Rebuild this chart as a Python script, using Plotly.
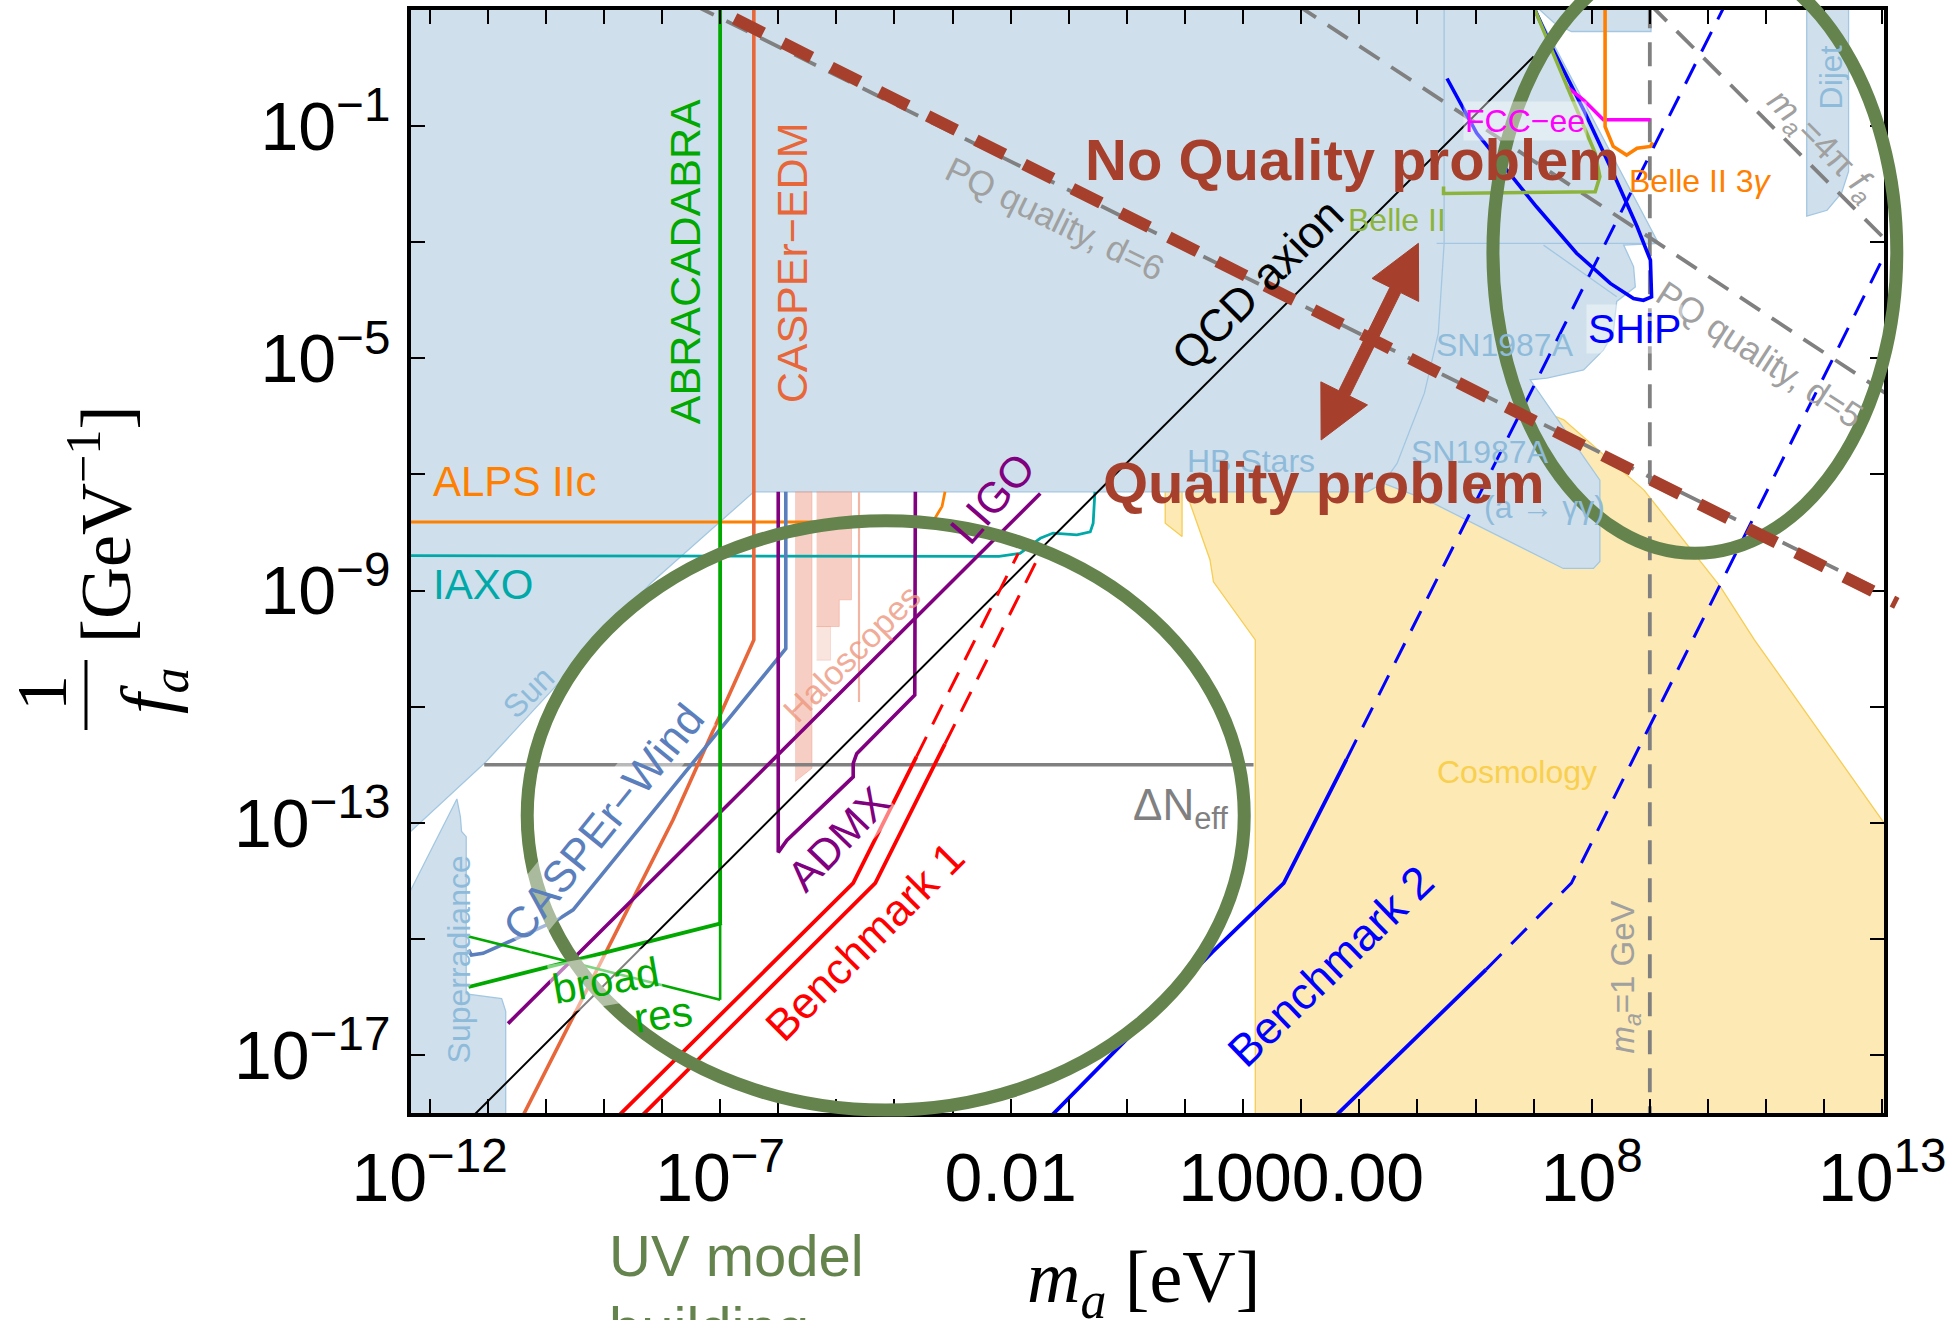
import numpy as np
import plotly.graph_objects as go

# ---------------- axes (log10 units) ----------------
X_RANGE = [-12.32, 13.03]
Y_RANGE = [-18.0, 1.0]
X_MINOR_EXP = list(range(-12, 14))
X_TICK_EXP = [-12, -7, -2, 3, 8, 13]
X_TICK_TEXT = ["10<sup>−12</sup>", "10<sup>−7</sup>", "0.01", "1000.00", "10<sup>8</sup>", "10<sup>13</sup>"]
Y_MINOR_EXP = list(range(-17, 2, 2))
Y_TICK_EXP = [-17, -13, -9, -5, -1]
Y_TICK_TEXT = ["10<sup>−17</sup>", "10<sup>−13</sup>", "10<sup>−9</sup>", "10<sup>−5</sup>", "10<sup>−1</sup>"]

# ---------------- regions (log10 m_a [eV], log10 1/f_a [GeV^-1]) ----------------
BLUE_MAIN_X = [-12.4, 7.05, 7.05, 9.15, 8.55, 8.72, 8.75, 8.43, 8.37, 8.20, 7.86, 7.23, 6.94,
               8.14, 8.14, 8.03, 7.51, 5.16, 4.41, 4.14, -6.42, -8.19, -11.03, -12.4, -12.4]
BLUE_MAIN_Y = [1.1, 1.1, 0.97, -3.02, -3.05, -3.42, -3.77, -4.02, -4.57, -4.86, -5.20, -5.34, -5.37,
               -7.10, -8.50, -8.62, -8.62, -7.44, -7.15, -7.30, -7.30, -8.87, -11.95, -13.22, 1.1]
BLUE_STRIP_X = [7.0, 9.02, 9.02, 7.65, 7.35, 7.0]
BLUE_STRIP_Y = [1.1, 1.1, 0.63, 0.63, 0.78, 1.1]
DIJET_X = [11.70, 12.42, 12.42, 12.30, 12.05, 11.70, 11.70]
DIJET_Y = [1.1, 1.1, -1.78, -2.15, -2.45, -2.55, 1.1]
SUPERRAD_X = [-12.4, -12.4, -11.53, -11.47, -11.45, -11.37, -11.37, -10.76, -10.69, -10.69, -12.4]
SUPERRAD_Y = [-18.1, -14.31, -12.59, -12.90, -13.15, -13.24, -15.95, -16.03, -16.25, -18.1, -18.1]
OUTLINE1_X = [5.46, 5.46, 5.36, 5.12, 4.87, 4.65, 4.41]
OUTLINE1_Y = [1.1, -3.02, -4.57, -5.6, -6.24, -6.81, -7.15]
OUTLINE2_X = [5.33, 9.15]
OUTLINE2_Y = [-3.02, -3.02]
OUTLINE3_X = [7.17, 7.86, 8.43]
OUTLINE3_Y = [-3.05, -3.54, -3.94]

COSMO_X = [1.0, 1.43, 1.49, 2.21, 2.21, 13.1, 13.1, 10.8, 10.21, 8.9, 7.52, 7.0, 4.0, 1.0]
COSMO_Y = [-7.25, -8.47, -8.85, -9.85, -18.1, -18.1, -13.1, -9.85, -8.93, -7.27, -6.06, -5.85, -7.0, -7.25]
COSMO_FLAG_X = [0.66, 0.66, 0.95, 0.95, 0.66]
COSMO_FLAG_Y = [-7.28, -7.84, -8.07, -7.28, -7.28]

HALO1_X = [-5.71, -5.42, -5.42, -5.71]
HALO1_Y = [-7.3, -7.3, -12.06, -12.29]
HALO2_X = [-5.34, -4.74, -4.74, -4.95, -4.95, -5.34]
HALO2_Y = [-7.3, -7.3, -9.16, -9.16, -9.62, -9.62]
HALO3_X = [-5.34, -5.10, -5.10, -5.34]
HALO3_Y = [-9.62, -9.62, -10.2, -10.2]
HALO_LINE_X = [-4.61, -4.61]
HALO_LINE_Y = [-7.3, -10.92]

# ---------------- curves ----------------
ALPS_X = [-12.4, -3.45, -3.30, -3.18, -3.13]
ALPS_Y = [-7.82, -7.82, -7.75, -7.55, -7.30]
IAXO_X = [-12.4, -2.2, -1.84, -1.49, -1.27, -0.86, -0.63, -0.58, -0.55]
IAXO_Y = [-8.40, -8.41, -8.36, -8.10, -8.01, -8.04, -7.99, -7.84, -7.30]
ABRA_X = [-7.0, -7.0]
ABRA_Y = [1.1, -14.73]
ABRA_RES_X = [-7.0, -7.0]
ABRA_RES_Y = [-14.73, -16.05]
BROAD_X = [-11.33, -6.97]
BROAD_Y = [-15.83, -14.73]
RES_X = [-11.33, -7.0]
RES_Y = [-14.96, -16.05]
EDM_X = [-6.42, -6.42, -7.81, -10.42]
EDM_Y = [1.1, -9.85, -12.95, -18.1]
WIND_X = [-5.87, -5.87, -9.53, -9.81, -11.08, -11.28, -11.33]
WIND_Y = [-7.3, -10.0, -14.50, -14.68, -15.25, -15.28, -15.19]
ADMX_X = [-6.0, -6.0, -5.85, -4.71, -4.71, -4.65, -3.65, -3.64]
ADMX_Y = [-7.3, -13.51, -13.30, -12.21, -11.98, -11.81, -10.80, -7.3]
LIGO_X = [-10.65, -1.49]
LIGO_Y = [-16.46, -7.33]
QCD_X = [-11.3, 7.0]
QCD_Y = [-18.1, 0.2]
DNEFF_X = [-11.06, 2.18]
DNEFF_Y = [-12.0, -12.0]

BM1A_X = [-8.80, -4.71, -3.62]
BM1A_Y = [-18.1, -14.04, -11.86]
BM1A_DASH_X = [-3.62, -1.87]
BM1A_DASH_Y = [-11.86, -8.36]
BM1B_X = [-8.40, -4.33, -3.13]
BM1B_Y = [-18.1, -14.04, -11.64]
BM1B_DASH_X = [-3.13, -1.50]
BM1B_DASH_Y = [-11.64, -8.38]
BM2C_X = [-1.35, 1.47, 2.70, 3.78]
BM2C_Y = [-18.1, -15.23, -14.04, -11.91]
BM2C_DASH_X = [3.78, 10.3]
BM2C_DASH_Y = [-11.91, 1.1]
BM2D_X = [3.54, 6.18]
BM2D_Y = [-18.1, -15.53]
BM2D_DASH_X = [6.18, 7.65, 13.1]
BM2D_DASH_Y = [-15.53, -14.04, -3.1]

PQ6_X = [-7.48, 13.1]
PQ6_Y = [1.1, -9.07]
PQ5_X = [2.91, 13.1]
PQ5_Y = [1.1, -5.63]
MA4PI_X = [9.0, 13.1]
MA4PI_Y = [1.1, -3.0]
GEV_X = [9.0, 9.0]
GEV_Y = [1.1, -18.1]

SHIP_X = [6.98, 7.28, 7.86, 8.37, 8.78, 9.01, 9.03, 8.89, 8.72, 8.32, 7.74, 7.05, 6.54, 6.02, 5.51]
SHIP_Y = [1.1, 0.43, -0.72, -1.81, -2.73, -3.31, -3.94, -4.0, -3.97, -3.71, -3.19, -2.39, -1.76, -1.12, -0.18]
FCC_X = [7.57, 7.86, 8.20, 9.01]
FCC_Y = [-0.32, -0.55, -0.89, -0.89]
BELLE3G_X = [8.23, 8.23, 8.37, 8.60, 8.78, 9.01, 9.05]
BELLE3G_Y = [1.1, -1.01, -1.35, -1.50, -1.38, -1.35, -1.28]
BELLE_X = [6.98, 8.06, 8.14, 8.06, 5.45, 5.45]
BELLE_Y = [1.1, -1.47, -1.87, -2.13, -2.16, -2.04]

# ---------------- overlay annotations ----------------
RED_LINE_X = [-6.75, 13.25]
RED_LINE_Y = [0.85, -9.22]
ARROW_TAIL = (3.343, -6.407)
ARROW_HEAD = (5.017, -3.019)
ELLIPSE1_X = [-10.32, 2.02]
ELLIPSE1_Y = [-17.95, -7.80]
ELLIPSE2_X = [6.30, 13.25]
ELLIPSE2_Y = [-8.36, 2.025]

# ---------------- styling ----------------
W, H = 1954, 1320
ML, MR, MT, MB = 411, 70, 10, 207
PW, PH = W - ML - MR, H - MT - MB
SANS = "Liberation Sans, Arial, sans-serif"
SERIF = "Liberation Serif, Times New Roman, serif"
BLUE_FILL = "#cfe0ec"
BLUE_EDGE = "#a3c7e2"
BLUE_TXT = "#8fbbdb"
YEL_FILL = "#fde9b3"
YEL_EDGE = "#f6cd55"
GRAY = "#808080"
BRICK = "#a63f2b"
OLIVE = "#64834d"


def P(v):
    return list(10.0 ** np.asarray(v, dtype=float))


def l2px(lx, ly):
    px = ML + (lx - X_RANGE[0]) / (X_RANGE[1] - X_RANGE[0]) * PW
    py = MT + (Y_RANGE[1] - ly) / (Y_RANGE[1] - Y_RANGE[0]) * PH
    return px, py


def px2paper(px, py):
    return (px - ML) / PW, (H - MB - py) / PH


def l2paper(lx, ly):
    return px2paper(*l2px(lx, ly))


fig = go.Figure()


def add_fill(xs, ys, fill, edge, ew=1.3):
    fig.add_trace(go.Scatter(x=P(xs), y=P(ys), mode="lines", fill="toself", fillcolor=fill,
                             line=dict(color=edge, width=ew), hoverinfo="skip", showlegend=False))


def add_line(xs, ys, color, width, dash=None):
    fig.add_trace(go.Scatter(x=P(xs), y=P(ys), mode="lines",
                             line=dict(color=color, width=width, dash=dash),
                             hoverinfo="skip", showlegend=False))


# fills
add_fill(COSMO_X, COSMO_Y, YEL_FILL, YEL_EDGE)
add_fill(COSMO_FLAG_X, COSMO_FLAG_Y, YEL_FILL, YEL_EDGE)
add_fill(BLUE_MAIN_X, BLUE_MAIN_Y, BLUE_FILL, BLUE_EDGE)
add_fill(BLUE_STRIP_X, BLUE_STRIP_Y, BLUE_FILL, BLUE_EDGE)
add_fill(DIJET_X, DIJET_Y, BLUE_FILL, BLUE_EDGE)
add_fill(SUPERRAD_X, SUPERRAD_Y, BLUE_FILL, BLUE_EDGE)
add_line(OUTLINE1_X, OUTLINE1_Y, BLUE_EDGE, 1.3)
add_line(OUTLINE2_X, OUTLINE2_Y, BLUE_EDGE, 1.3)
add_line(OUTLINE3_X, OUTLINE3_Y, BLUE_EDGE, 1.3)
add_fill(HALO1_X, HALO1_Y, "rgba(240,165,145,0.55)", "rgba(240,165,145,0.7)", 0.8)
add_fill(HALO2_X, HALO2_Y, "rgba(240,165,145,0.55)", "rgba(240,165,145,0.7)", 0.8)
add_fill(HALO3_X, HALO3_Y, "rgba(240,165,145,0.3)", "rgba(240,165,145,0.4)", 0.8)
add_line(HALO_LINE_X, HALO_LINE_Y, "#f2b5a4", 2.2)

# reference lines
add_line(PQ6_X, PQ6_Y, GRAY, 3.8, "24px,14px")
add_line(PQ5_X, PQ5_Y, GRAY, 3.8, "24px,14px")
add_line(MA4PI_X, MA4PI_Y, GRAY, 3.8, "24px,14px")
add_line(GEV_X, GEV_Y, GRAY, 3.8, "24px,14px")
add_line(DNEFF_X, DNEFF_Y, GRAY, 3.5)

# experiments
add_line(ALPS_X, ALPS_Y, "#ff8000", 2.8)
add_line(IAXO_X, IAXO_Y, "#00a8a8", 2.8)
add_line(EDM_X, EDM_Y, "#e8673a", 3.6)
add_line(WIND_X, WIND_Y, "#5b7fbd", 3.6)
add_line(ADMX_X, ADMX_Y, "#800080", 3.6)
add_line(LIGO_X, LIGO_Y, "#800080", 3.6)
add_line(ABRA_X, ABRA_Y, "#00a800", 3.8)
add_line(ABRA_RES_X, ABRA_RES_Y, "#00a800", 2.6)
add_line(BROAD_X, BROAD_Y, "#00a800", 3.8)
add_line(RES_X, RES_Y, "#00a800", 2.6)
add_line(QCD_X, QCD_Y, "black", 2.0)
add_line(SHIP_X, SHIP_Y, "#0000ff", 3.6)
add_line(FCC_X, FCC_Y, "#ff00ff", 3.6)
add_line(BELLE3G_X, BELLE3G_Y, "#ff8000", 3.6)
add_line(BELLE_X, BELLE_Y, "#8cb43c", 3.6)

# benchmarks
add_line(BM1A_X, BM1A_Y, "#ff0000", 3.8)
add_line(BM1A_DASH_X, BM1A_DASH_Y, "#ff0000", 3.0, "22px,14px")
add_line(BM1B_X, BM1B_Y, "#ff0000", 3.8)
add_line(BM1B_DASH_X, BM1B_DASH_Y, "#ff0000", 3.0, "22px,14px")
add_line(BM2C_X, BM2C_Y, "#0000ff", 3.8)
add_line(BM2C_DASH_X, BM2C_DASH_Y, "#0000ff", 3.0, "22px,14px")
add_line(BM2D_X, BM2D_Y, "#0000ff", 3.8)
add_line(BM2D_DASH_X, BM2D_DASH_Y, "#0000ff", 3.0, "22px,14px")

# ---------------- overlay shapes ----------------
shapes = []
for ex, ey in [(ELLIPSE1_X, ELLIPSE1_Y), (ELLIPSE2_X, ELLIPSE2_Y)]:
    x0, y0 = l2paper(ex[0], ey[0])
    x1, y1 = l2paper(ex[1], ey[1])
    shapes.append(dict(type="circle", xref="paper", yref="paper", x0=x0, y0=y0, x1=x1, y1=y1,
                       line=dict(color=OLIVE, width=13), layer="above"))

rx0, ry0 = l2paper(RED_LINE_X[0], RED_LINE_Y[0])
rx1, ry1 = l2paper(RED_LINE_X[1], RED_LINE_Y[1])
shapes.append(dict(type="line", xref="paper", yref="paper", x0=rx0, y0=ry0, x1=rx1, y1=ry1,
                   line=dict(color=BRICK, width=12, dash="32px,22px"), layer="above"))

B = np.array(l2px(*ARROW_TAIL))
T = np.array(l2px(*ARROW_HEAD))
u = (T - B) / np.linalg.norm(T - B)
n = np.array([-u[1], u[0]])
hl, hh, sh = 52.0, 26.0, 6.0
pts = [T, T - u * hl + n * hh, T - u * hl + n * sh, B + u * hl + n * sh, B + u * hl + n * hh, B,
       B + u * hl - n * hh, B + u * hl - n * sh, T - u * hl - n * sh, T - u * hl - n * hh]
path = "M " + " L ".join("%.5f,%.5f" % px2paper(p[0], p[1]) for p in pts) + " Z"
shapes.append(dict(type="path", xref="paper", yref="paper", path=path, fillcolor=BRICK,
                   line=dict(color=BRICK, width=1), layer="above"))

# y title fraction bar
bx, by0 = px2paper(86, 660)
_, by1 = px2paper(86, 730)
shapes.append(dict(type="line", xref="paper", yref="paper", x0=bx, y0=by0, x1=bx, y1=by1,
                   line=dict(color="black", width=3)))

# ---------------- labels ----------------
ann = []


def lab(text, lx, ly, color, size, angle=0, family=SANS, xanchor="center", bg=None):
    d = dict(x=lx, y=ly, xref="x", yref="y", text=text, showarrow=False, textangle=angle,
             font=dict(family=family, size=size, color=color), xanchor=xanchor, yanchor="middle")
    if bg:
        d["bgcolor"] = bg
    ann.append(d)


def plab(text, px, py, color, size, angle=0, family=SANS, xanchor="center"):
    x, y = px2paper(px, py)
    ann.append(dict(x=x, y=y, xref="paper", yref="paper", text=text, showarrow=False, textangle=angle,
                    font=dict(family=family, size=size, color=color), xanchor=xanchor, yanchor="middle"))


lab("ABRACADABRA", -7.6, -3.34, "#00a800", 43, -90)
lab("CASPEr−EDM", -5.76, -3.36, "#e8673a", 43, -90)
lab("ALPS IIc", -11.98, -7.13, "#ff8000", 42, 0, xanchor="left")
lab("IAXO", -11.98, -8.89, "#00a8a8", 42, 0, xanchor="left")
lab("Sun", -10.29, -10.75, BLUE_TXT, 32, -45)
lab("Superradiance", -11.50, -15.36, BLUE_TXT, 32, -90)
lab("CASPEr−Wind", -9.02, -12.99, "#5b7fbd", 44, -51, bg="rgba(255,255,255,0.45)")
lab("broad", -8.98, -15.71, "#00a800", 42, -10, bg="rgba(255,255,255,0.5)")
lab("res", -7.98, -16.31, "#00a800", 42, -8)
lab("ADMX", -4.97, -13.28, "#800080", 43, -46, bg="rgba(255,255,255,0.5)")
lab("LIGO", -2.31, -7.41, "#800080", 43, -49)
lab("Haloscopes", -4.73, -10.08, "rgba(238,150,125,0.8)", 34, -45)
lab("Benchmark 1", -4.52, -15.04, "#ff0000", 44, -45)
lab("Benchmark 2", 3.5, -15.47, "#0000ff", 45, -44)
lab("ΔN<sub>eff</sub>", 0.93, -12.75, GRAY, 44)
lab("QCD axion", 2.24, -3.72, "black", 45, -45)
lab("PQ quality, d=6", -1.24, -2.6, "#a0a0a0", 35, 26)
lab("PQ quality, d=5", 10.9, -4.94, "#a0a0a0", 35, 33)
lab("<i>m</i><sub><i>a</i></sub>=4π <i>f</i><sub><i>a</i></sub>", 11.97, -1.34, "#a0a0a0", 35, 45)
lab("<i>m</i><sub><i>a</i></sub>=1 GeV", 8.58, -15.66, "#a0a0a0", 33, -90)
lab("Dijet", 12.12, -0.16, BLUE_TXT, 32, -90)
lab("Belle II 3<i>γ</i>", 9.87, -1.95, "#ff8000", 32)
lab("FCC−ee", 6.85, -0.92, "#ff00ff", 32, bg="rgba(255,255,255,0.4)")
lab("Belle II", 4.65, -2.62, "#8cb43c", 32)
lab("SHiP", 8.73, -4.5, "#0000ff", 41, bg="rgba(255,255,255,0.4)")
lab("SN1987A", 6.51, -4.77, BLUE_TXT, 32)
lab("SN1987A", 6.08, -6.61, BLUE_TXT, 32)
lab("(a → γγ)", 7.18, -7.56, BLUE_TXT, 32)
lab("HB Stars", 2.14, -6.77, BLUE_TXT, 32)
lab("Cosmology", 6.71, -12.13, "#f8cf4f", 32)
lab("<b>No Quality problem</b>", 3.876, -1.575, BRICK, 58)
lab("<b>Quality problem</b>", 3.385, -7.136, BRICK, 58)

plab("UV model", 607, 1255, OLIVE, 58, xanchor="left")
plab("building", 607, 1327, OLIVE, 58, xanchor="left")
plab("<i>m</i><sub><i>a</i></sub> [eV]", 1143, 1282, "black", 74, family=SERIF)
plab("[GeV<sup>−1</sup>]", 100, 524, "black", 72, -90, family=SERIF)
plab("1", 42, 693, "black", 72, -90, family=SERIF)
plab("<i>f</i><sub><i>a</i></sub>", 152, 691, "black", 74, -90, family=SERIF)

# ---------------- layout ----------------
AX_COMMON = dict(ticks="inside", ticklen=14, tickwidth=2, tickcolor="black",
                 showline=True, linewidth=4, linecolor="black", mirror="allticks",
                 showgrid=False, zeroline=False, automargin=False,
                 tickfont=dict(family=SANS, size=68, color="black"))
fig.update_layout(
    width=W, height=H, autosize=False,
    margin=dict(l=ML, r=MR, t=MT, b=MB, pad=0),
    plot_bgcolor="white", paper_bgcolor="white",
    showlegend=False,
    shapes=shapes, annotations=ann,
    xaxis=dict(type="log", range=X_RANGE, tickmode="array",
               tickvals=[10.0 ** k for k in X_TICK_EXP], ticktext=X_TICK_TEXT,
               minor=dict(tickmode="array", tickvals=[10.0 ** k for k in X_MINOR_EXP],
                          ticks="inside", ticklen=14, tickwidth=2, tickcolor="black", showgrid=False),
               ticklabelstandoff=2, **AX_COMMON),
    yaxis=dict(type="log", range=Y_RANGE, tickmode="array",
               tickvals=[10.0 ** k for k in Y_TICK_EXP], ticktext=Y_TICK_TEXT,
               minor=dict(tickmode="array", tickvals=[10.0 ** k for k in Y_MINOR_EXP],
                          ticks="inside", ticklen=14, tickwidth=2, tickcolor="black", showgrid=False),
               ticklabelstandoff=3, **AX_COMMON),
)

fig.write_html("out.html", config={"displayModeBar": False},
               post_script="document.body.style.margin='0px';document.body.style.overflow='hidden';")
